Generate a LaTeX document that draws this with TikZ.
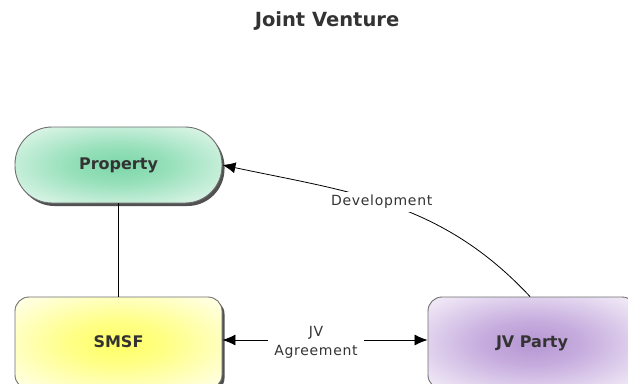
\documentclass[tikz,border=0pt]{standalone}
\usepackage{fontspec}
\setmainfont{DejaVu Sans}
\usetikzlibrary{shadows, arrows.meta}

% soft fills for the three boxes
\pgfdeclareradialshading{greenglow}{\pgfpoint{0bp}{0bp}}{%
  color(0bp)=(rgb,255:red,125;green,214;blue,168); color(12bp)=(rgb,255:red,150;green,224;blue,186);
  color(30bp)=(rgb,255:red,215;green,243;blue,228); color(42bp)=(white); color(50bp)=(white)}
\pgfdeclareradialshading{yellowglow}{\pgfpoint{0bp}{0bp}}{%
  color(0bp)=(rgb,255:red,255;green,255;blue,100); color(12bp)=(rgb,255:red,255;green,255;blue,135);
  color(30bp)=(rgb,255:red,255;green,255;blue,215); color(42bp)=(white); color(50bp)=(white)}
\pgfdeclareradialshading{purpleglow}{\pgfpoint{0bp}{0bp}}{%
  color(0bp)=(rgb,255:red,182;green,150;blue,210); color(12bp)=(rgb,255:red,198;green,172;blue,222);
  color(30bp)=(rgb,255:red,234;green,224;blue,243); color(42bp)=(white); color(50bp)=(white)}

\definecolor{inkgray}{RGB}{51,51,51}
\definecolor{rimgray}{RGB}{110,110,110}

\begin{document}
\begin{tikzpicture}[x=1pt, y=-1pt,
    box/.style={draw=rimgray, line width=0.9pt, text=inkgray,
      font=\fontsize{16}{18}\selectfont\bfseries,
      minimum width=207pt, inner sep=0pt,
      drop shadow={shadow xshift=2.5pt, shadow yshift=-3pt, fill=black!80, opacity=0.85}},
    link/.style={line width=0.8pt, black},
    tag/.style={fill=white, text=inkgray, font=\fontsize{14}{19}\selectfont\addfontfeature{LetterSpace=5},
      align=center, inner xsep=6pt, inner ysep=3pt}]
  \useasboundingbox (0,0) rectangle (628,383);

  \node[text=inkgray, font=\fontsize{19.5}{22}\selectfont\bfseries] (title) at (327,21) {Joint Venture};

  % the three parties
  \node[box, shading=greenglow, rounded corners=37pt, minimum height=76pt] (property) at (118.5,165) {Property};
  \node[box, shading=yellowglow, rounded corners=14pt, minimum height=92pt] (smsf) at (118.5,343) {\raisebox{2pt}{SMSF}};
  \node[box, shading=purpleglow, rounded corners=14pt, minimum width=208pt, minimum height=92pt] (jvparty) at (532,343) {\raisebox{2pt}{JV Party}};

  % links between them
  \draw[link] (property.south) -- (smsf.north);
  \draw[link, -{Latex[length=13pt, width=11pt]}] (jvparty.north -| 530,0) to[out=133, in=-12]
    node[tag, pos=0.53] (devtag) {Development} (property.east);
  \draw[link, {Latex[length=13pt, width=11pt]}-{Latex[length=13pt, width=11pt]}] (smsf.east |- 0,340) -- (jvparty.west |- 0,340)
    node[tag, midway, xshift=-9pt, yshift=-2pt] (jvtag) {JV\\Agreement};
\end{tikzpicture}
\end{document}
